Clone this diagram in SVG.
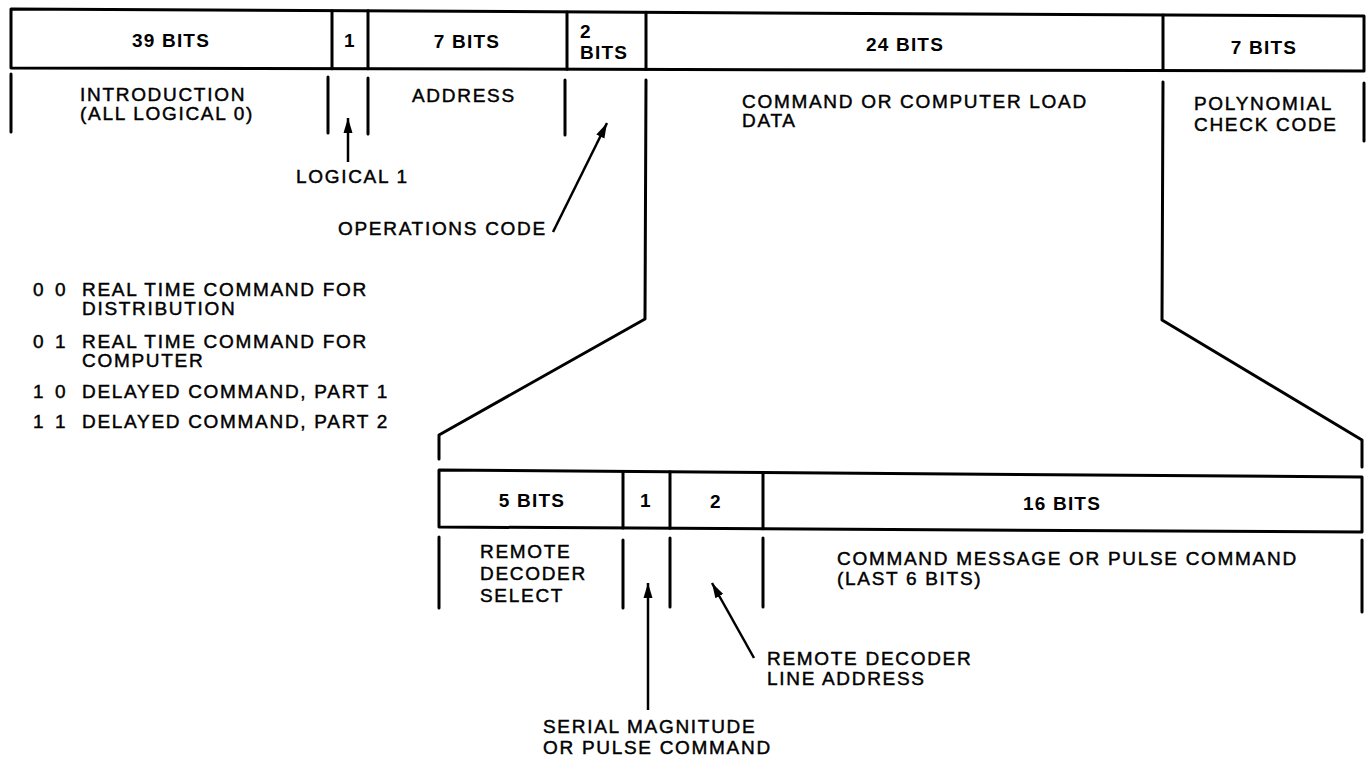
<svg xmlns="http://www.w3.org/2000/svg" width="1369" height="757" viewBox="0 0 1369 757">
<style>
  .ln{stroke:#000;stroke-width:3;fill:none;stroke-linecap:round;stroke-linejoin:round}
  .bar{stroke:#000;stroke-width:3;fill:#fff;stroke-linejoin:round}
  .ar{stroke:#000;stroke-width:2.5;fill:none;marker-end:url(#ah)}
  text{font-family:"Liberation Sans",Arial,Helvetica,sans-serif;font-size:19px;fill:#000;stroke:#000;stroke-width:0.45px;letter-spacing:1.7px}
  .b{font-weight:bold;stroke-width:0;letter-spacing:1.2px}
  .c{text-anchor:middle}
</style>
<defs>
  <marker id="ah" markerUnits="userSpaceOnUse" markerWidth="16" markerHeight="10" refX="15" refY="5" orient="auto">
    <path d="M0,0.5 L15,5 L0,9.5 Z" fill="#000"/>
  </marker>
</defs>
<rect width="1369" height="757" fill="#fff"/>

<g id="top-bar">
  <polygon class="bar" points="11,9 1364,16 1364,71 11,68"/>
  <line class="ln" x1="332" y1="10.7" x2="332" y2="68.7"/>
  <line class="ln" x1="368" y1="10.8" x2="368" y2="68.8"/>
  <line class="ln" x1="567" y1="11.9" x2="567" y2="69.2"/>
  <line class="ln" x1="646" y1="12.3" x2="646" y2="69.4"/>
  <line class="ln" x1="1163" y1="15" x2="1163" y2="70.6"/>
  <text class="b c" x="171" y="47">39 BITS</text>
  <text class="b c" x="350" y="47">1</text>
  <text class="b c" x="467" y="48">7 BITS</text>
  <text class="b" x="580" y="38">2</text>
  <text class="b" x="580" y="59">BITS</text>
  <text class="b c" x="905" y="51">24 BITS</text>
  <text class="b c" x="1264" y="54">7 BITS</text>
</g>

<g id="top-fields">
  <line class="ln" x1="11" y1="74" x2="11" y2="132"/>
  <line class="ln" x1="328" y1="77" x2="328" y2="133"/>
  <line class="ln" x1="368" y1="78" x2="368" y2="134"/>
  <line class="ln" x1="565" y1="80" x2="565" y2="135"/>
  <line class="ln" x1="1364" y1="83" x2="1364" y2="141"/>
  <text x="80" y="101">INTRODUCTION</text>
  <text x="80" y="120">(ALL LOGICAL 0)</text>
  <text x="412" y="102">ADDRESS</text>
  <text x="742" y="108">COMMAND OR COMPUTER LOAD</text>
  <text x="742" y="127">DATA</text>
  <text x="1194" y="110">POLYNOMIAL</text>
  <text x="1194" y="131">CHECK CODE</text>
</g>

<g id="funnel">
  <polyline class="ln" points="646,80 645,319 439,435 439,459"/>
  <polyline class="ln" points="1163,82 1162,320 1362,440 1362,467"/>
</g>

<g id="bottom-bar">
  <polygon class="bar" points="439,470 1362,477 1362,532 439,527"/>
  <line class="ln" x1="623" y1="471.4" x2="623" y2="528"/>
  <line class="ln" x1="670" y1="471.8" x2="670" y2="528.3"/>
  <line class="ln" x1="763" y1="472.5" x2="763" y2="528.8"/>
  <text class="b c" x="532" y="507">5 BITS</text>
  <text class="b c" x="646" y="507">1</text>
  <text class="b c" x="716" y="508">2</text>
  <text class="b c" x="1062" y="510">16 BITS</text>
</g>

<g id="bottom-fields">
  <line class="ln" x1="439" y1="537" x2="439" y2="608"/>
  <line class="ln" x1="623" y1="540" x2="623" y2="608"/>
  <line class="ln" x1="670" y1="538" x2="670" y2="607"/>
  <line class="ln" x1="763" y1="538" x2="763" y2="607"/>
  <line class="ln" x1="1362" y1="540" x2="1362" y2="612"/>
  <text x="480" y="558">REMOTE</text>
  <text x="480" y="580">DECODER</text>
  <text x="480" y="602">SELECT</text>
  <text x="837" y="565">COMMAND MESSAGE OR PULSE COMMAND</text>
  <text x="837" y="585">(LAST 6 BITS)</text>
</g>

<g id="opcode-list">
  <text x="33" y="296">0</text><text x="55" y="296">0</text>
  <text x="82" y="296">REAL TIME COMMAND FOR</text>
  <text x="82" y="315">DISTRIBUTION</text>
  <text x="33" y="348">0</text><text x="55" y="348">1</text>
  <text x="82" y="348">REAL TIME COMMAND FOR</text>
  <text x="82" y="367">COMPUTER</text>
  <text x="33" y="398">1</text><text x="55" y="398">0</text>
  <text x="82" y="398">DELAYED COMMAND, PART 1</text>
  <text x="33" y="428">1</text><text x="55" y="428">1</text>
  <text x="82" y="428">DELAYED COMMAND, PART 2</text>
</g>

<g id="callouts">
  <text x="296" y="183">LOGICAL 1</text>
  <text x="338" y="235">OPERATIONS CODE</text>
  <text x="767" y="665">REMOTE DECODER</text>
  <text x="767" y="685">LINE ADDRESS</text>
  <text x="543" y="733">SERIAL MAGNITUDE</text>
  <text x="543" y="754">OR PULSE COMMAND</text>
</g>

<g id="connectors">
  <line class="ar" x1="348" y1="162" x2="348" y2="118"/>
  <line class="ar" x1="553" y1="232" x2="607" y2="123"/>
  <line class="ar" x1="648" y1="710" x2="648" y2="583"/>
  <line class="ar" x1="754" y1="658" x2="712" y2="583"/>
</g>
</svg>
